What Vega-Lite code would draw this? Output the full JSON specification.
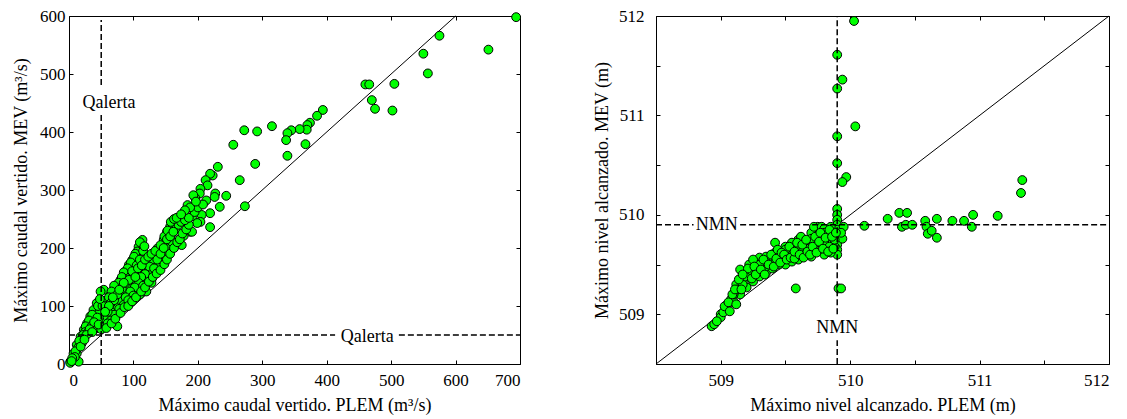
{
  "$schema": "https://vega.github.io/schema/vega-lite/v6.json",
  "background": "white",
  "padding": {"left": 12, "top": 6, "right": 12, "bottom": 5},
  "bounds": "flush",
  "spacing": 136,
  "config": {
    "view": {"stroke": "black", "strokeWidth": 1},
    "font": "Times New Roman, Liberation Serif, serif",
    "axis": {"grid": false, "domain": false, "tickColor": "black", "tickSize": -4, "tickWidth": 1, "labelFont": "Times New Roman, Liberation Serif, serif", "labelFontSize": 17, "labelColor": "black", "titleFont": "Times New Roman, Liberation Serif, serif", "titleFontSize": 18, "titleFontWeight": "normal", "titleColor": "black"}
  },
  "datasets": {
    "q": [
      {"x":694,"y":598},{"x":651,"y":542},{"x":575,"y":566},{"x":550,"y":535},{"x":557,"y":501},{"x":460,"y":482},{"x":466,"y":482},{"x":505,"y":483},{"x":470,"y":455},{"x":475,"y":440},{"x":502,"y":437},{"x":394,"y":438},{"x":385,"y":428},{"x":374,"y":416},{"x":370,"y":412},{"x":369,"y":404},{"x":358,"y":405},{"x":345,"y":403},{"x":339,"y":398},{"x":337,"y":386},{"x":367,"y":379},{"x":339,"y":359},{"x":315,"y":410},{"x":292,"y":401},{"x":272,"y":403},{"x":255,"y":378},{"x":289,"y":345},{"x":265,"y":317},{"x":273,"y":272},{"x":231,"y":340},{"x":223,"y":325},{"x":219,"y":328},{"x":212,"y":317},{"x":215,"y":308},{"x":204,"y":302},{"x":227,"y":294},{"x":244,"y":290},{"x":226,"y":288},{"x":213,"y":282},{"x":203,"y":294},{"x":196,"y":286},{"x":193,"y":291},{"x":184,"y":274},{"x":234,"y":271},{"x":219,"y":260},{"x":206,"y":257},{"x":192,"y":255},{"x":168,"y":251},
      {"x":204,"y":245},{"x":219,"y":236},{"x":188,"y":228},{"x":178,"y":221},{"x":175,"y":205},{"x":199,"y":243},{"x":191,"y":228},{"x":168,"y":249},{"x":162,"y":242},{"x":157,"y":237},{"x":152,"y":228},{"x":147,"y":214},{"x":137,"y":199},{"x":131,"y":188},{"x":121,"y":173},{"x":111,"y":162},{"x":100,"y":145},{"x":90,"y":128},{"x":80,"y":119},{"x":75,"y":105},{"x":138,"y":165},{"x":129,"y":148},{"x":121,"y":145},
      {"x":114,"y":214},{"x":108,"y":202},{"x":106,"y":194},{"x":98,"y":179},{"x":93,"y":171},{"x":87,"y":159},{"x":80,"y":145},{"x":72,"y":131},{"x":64,"y":119},{"x":54,"y":128},{"x":49,"y":125},{"x":59,"y":110},{"x":43,"y":105},{"x":38,"y":93},{"x":33,"y":82},{"x":28,"y":70},{"x":23,"y":59},{"x":18,"y":47},{"x":12,"y":33},{"x":7,"y":18},{"x":2,"y":4},{"x":69,"y":90},{"x":54,"y":76},{"x":54,"y":64},{"x":41,"y":70},{"x":20,"y":36},{"x":12,"y":18},{"x":7,"y":7},{"x":15,"y":4},{"x":2,"y":2},
      {"x":110,"y":210},{"x":103,"y":190},{"x":101,"y":185},{"x":96,"y":175},{"x":91,"y":165},{"x":85,"y":158},{"x":82,"y":150},{"x":77,"y":140},{"x":70,"y":135},{"x":66,"y":125},{"x":62,"y":115},{"x":57,"y":100},{"x":50,"y":95},{"x":47,"y":88},{"x":45,"y":100},{"x":36,"y":85},{"x":31,"y":75},{"x":26,"y":65},{"x":25,"y":55},{"x":22,"y":50},{"x":16,"y":40},{"x":14,"y":28},{"x":10,"y":22},{"x":9,"y":12},{"x":5,"y":10},{"x":4,"y":5},{"x":18,"y":30},{"x":30,"y":55},{"x":35,"y":65},{"x":40,"y":60},{"x":45,"y":75},{"x":60,"y":80},{"x":65,"y":95},{"x":75,"y":100},{"x":80,"y":110},{"x":85,"y":120},{"x":90,"y":135},{"x":95,"y":150},{"x":100,"y":155},{"x":105,"y":170},{"x":110,"y":180},{"x":115,"y":195},{"x":117,"y":203},
      {"x":126,"y":160},{"x":133,"y":175},{"x":140,"y":185},{"x":145,"y":195},{"x":150,"y":205},{"x":155,"y":215},{"x":160,"y":225},{"x":165,"y":232},{"x":170,"y":240},{"x":174,"y":245},{"x":118,"y":155},{"x":112,"y":150},{"x":108,"y":140},{"x":102,"y":132},{"x":95,"y":125},{"x":88,"y":115},{"x":85,"y":102},{"x":78,"y":95},{"x":70,"y":85},{"x":65,"y":75},{"x":60,"y":70},{"x":140,"y":170},{"x":145,"y":180},{"x":150,"y":190},{"x":155,"y":200},{"x":160,"y":210},{"x":128,"y":140},{"x":135,"y":160},{"x":115,"y":135},{"x":120,"y":125},{"x":110,"y":120},{"x":100,"y":118},{"x":92,"y":110},{"x":130,"y":180},{"x":125,"y":168},{"x":75,"y":65},{"x":50,"y":60},{"x":52,"y":100},{"x":48,"y":112},
      {"x":60,"y":90},{"x":65,"y":105},{"x":70,"y":110},{"x":75,"y":120},{"x":82,"y":130},{"x":88,"y":140},{"x":93,"y":145},{"x":98,"y":160},{"x":103,"y":150},{"x":107,"y":165},{"x":113,"y":170},{"x":118,"y":180},{"x":123,"y":185},{"x":128,"y":190},{"x":134,"y":195},{"x":142,"y":205},{"x":148,"y":220},{"x":153,"y":230},{"x":158,"y":245},{"x":163,"y":250},{"x":167,"y":252},{"x":132,"y":165},{"x":137,"y":180},{"x":142,"y":190},{"x":147,"y":200},{"x":152,"y":215},{"x":157,"y":220},{"x":162,"y":228},{"x":85,"y":140},{"x":78,"y":128},{"x":68,"y":115},{"x":62,"y":100},{"x":56,"y":90},{"x":44,"y":80},{"x":39,"y":72},{"x":32,"y":60},{"x":27,"y":50},{"x":24,"y":42},{"x":36,"y":55},{"x":46,"y":68},{"x":58,"y":62},{"x":66,"y":70},{"x":72,"y":78},{"x":80,"y":88},{"x":86,"y":98},{"x":92,"y":100},{"x":98,"y":108},{"x":104,"y":115},{"x":112,"y":125},{"x":118,"y":132},{"x":124,"y":142},{"x":130,"y":150},{"x":136,"y":156},{"x":142,"y":162},{"x":148,"y":172},{"x":152,"y":180},{"x":157,"y":190},{"x":163,"y":200},{"x":168,"y":210},{"x":172,"y":215},{"x":176,"y":225},{"x":182,"y":232},{"x":186,"y":240},{"x":180,"y":248},{"x":186,"y":252},{"x":195,"y":262},{"x":200,"y":270},{"x":208,"y":275},{"x":188,"y":270},{"x":197,"y":280},{"x":180,"y":265},{"x":174,"y":258}
    ],
    "n": [
      {"x":510.03,"y":511.95},{"x":509.9,"y":511.61},{"x":509.94,"y":511.36},{"x":509.9,"y":511.27},{"x":510.04,"y":510.89},{"x":509.9,"y":510.79},{"x":509.9,"y":510.52},{"x":509.97,"y":510.38},{"x":509.94,"y":510.33},{"x":509.9,"y":510.06},{"x":510.11,"y":509.89},{"x":510.29,"y":509.96},{"x":510.38,"y":510.02},{"x":510.44,"y":510.02},{"x":510.4,"y":509.88},{"x":510.43,"y":509.9},{"x":510.48,"y":509.9},{"x":510.58,"y":509.94},{"x":510.59,"y":509.88},{"x":510.6,"y":509.81},{"x":510.63,"y":509.84},{"x":510.67,"y":509.96},{"x":510.67,"y":509.77},{"x":510.79,"y":509.94},{"x":510.88,"y":509.94},{"x":510.95,"y":510.0},{"x":510.94,"y":509.88},{"x":511.14,"y":509.99},{"x":511.33,"y":510.35},{"x":511.32,"y":510.22},{"x":509.58,"y":509.26},{"x":509.91,"y":509.26},{"x":509.93,"y":509.26},
      {"x":509.9,"y":510.0},{"x":509.9,"y":509.95},{"x":509.9,"y":509.9},{"x":509.9,"y":509.85},{"x":509.9,"y":509.8},{"x":509.9,"y":509.75},{"x":509.9,"y":509.7},{"x":509.9,"y":509.65},{"x":509.9,"y":509.6},{"x":509.92,"y":509.78},{"x":509.94,"y":509.76},{"x":509.88,"y":509.68},{"x":509.86,"y":509.72},{"x":509.95,"y":509.88},{"x":509.93,"y":509.82},
      {"x":508.93,"y":508.88},{"x":509.0,"y":509.0},{"x":509.08,"y":509.15},{"x":509.12,"y":509.3},{"x":509.15,"y":509.45},{"x":509.22,"y":509.5},{"x":509.3,"y":509.57},{"x":509.4,"y":509.6},{"x":509.42,"y":509.72},{"x":509.5,"y":509.68},{"x":509.6,"y":509.75},{"x":509.7,"y":509.82},{"x":509.75,"y":509.88},{"x":509.85,"y":509.88},{"x":509.72,"y":509.88},{"x":509.78,"y":509.88},{"x":509.8,"y":509.86},
      {"x":508.95,"y":508.9},{"x":509.0,"y":508.97},{"x":509.05,"y":509.05},{"x":509.1,"y":509.13},{"x":509.15,"y":509.2},{"x":509.2,"y":509.27},{"x":509.25,"y":509.33},{"x":509.3,"y":509.38},{"x":509.35,"y":509.42},{"x":509.4,"y":509.46},{"x":509.5,"y":509.5},{"x":509.6,"y":509.55},{"x":509.7,"y":509.58},{"x":509.8,"y":509.6},{"x":509.85,"y":509.62},
      {"x":509.05,"y":509.1},{"x":509.1,"y":509.2},{"x":509.13,"y":509.25},{"x":509.18,"y":509.35},{"x":509.2,"y":509.4},{"x":509.25,"y":509.45},{"x":509.28,"y":509.5},{"x":509.32,"y":509.52},{"x":509.35,"y":509.48},{"x":509.38,"y":509.55},{"x":509.42,"y":509.52},{"x":509.45,"y":509.58},{"x":509.48,"y":509.55},{"x":509.52,"y":509.62},{"x":509.55,"y":509.6},{"x":509.58,"y":509.66},{"x":509.62,"y":509.65},{"x":509.65,"y":509.7},{"x":509.68,"y":509.66},{"x":509.72,"y":509.72},{"x":509.75,"y":509.7},{"x":509.78,"y":509.76},{"x":509.8,"y":509.72},{"x":509.82,"y":509.8},{"x":509.84,"y":509.68},{"x":509.88,"y":509.75},{"x":509.3,"y":509.5},{"x":509.25,"y":509.55},{"x":509.35,"y":509.58},{"x":509.22,"y":509.42},{"x":509.28,"y":509.44},{"x":509.45,"y":509.5},{"x":509.55,"y":509.53},{"x":509.65,"y":509.6},{"x":509.75,"y":509.64},{"x":509.6,"y":509.7},{"x":509.7,"y":509.76},{"x":509.8,"y":509.82},{"x":509.62,"y":509.78},{"x":509.55,"y":509.72},{"x":509.5,"y":509.65},{"x":509.42,"y":509.62},
      {"x":509.17,"y":509.3},{"x":509.19,"y":509.38},{"x":509.21,"y":509.46},{"x":509.24,"y":509.36},{"x":509.26,"y":509.48},{"x":509.27,"y":509.4},{"x":509.31,"y":509.45},{"x":509.33,"y":509.55},{"x":509.34,"y":509.4},{"x":509.37,"y":509.5},{"x":509.39,"y":509.6},{"x":509.41,"y":509.48},{"x":509.43,"y":509.56},{"x":509.44,"y":509.65},{"x":509.46,"y":509.52},{"x":509.47,"y":509.62},{"x":509.49,"y":509.6},{"x":509.51,"y":509.55},{"x":509.53,"y":509.68},{"x":509.54,"y":509.57},{"x":509.57,"y":509.56},{"x":509.57,"y":509.63},{"x":509.59,"y":509.72},{"x":509.61,"y":509.6},{"x":509.63,"y":509.7},{"x":509.64,"y":509.57},{"x":509.66,"y":509.75},{"x":509.67,"y":509.63},{"x":509.69,"y":509.6},{"x":509.71,"y":509.68},{"x":509.73,"y":509.78},{"x":509.74,"y":509.62},{"x":509.76,"y":509.73},{"x":509.77,"y":509.82},{"x":509.79,"y":509.66},{"x":509.81,"y":509.77},{"x":509.83,"y":509.63},{"x":509.84,"y":509.85},{"x":509.86,"y":509.78},{"x":509.87,"y":509.66},{"x":509.89,"y":509.82},
      {"x":508.97,"y":508.93},{"x":509.02,"y":509.02},{"x":509.03,"y":509.08},{"x":509.06,"y":509.12},{"x":509.07,"y":509.03},{"x":509.09,"y":509.2},{"x":509.11,"y":509.25},{"x":509.12,"y":509.1},{"x":509.14,"y":509.35},{"x":509.16,"y":509.25},{"x":509.17,"y":509.4}
    ],
    "qdiag": [{"x":0,"y":0},{"x":600,"y":600}],
    "ndiag": [{"x":508.5,"y":508.5},{"x":512,"y":512}],
    "qv": [{"x":50,"y1":481,"y2":593},{"x":50,"y1":0,"y2":433}],
    "qh": [{"y":50,"x1":0,"x2":413},{"y":50,"x1":512,"x2":700}],
    "nv": [{"x":509.9,"y1":509.0,"y2":512},{"x":509.9,"y1":508.5,"y2":508.74}],
    "nh": [{"y":509.9,"x1":508.5,"x2":508.79},{"y":509.9,"x1":509.15,"x2":512}],
    "qt": [{"x":62,"y":450,"t":"Qalerta"},{"x":463,"y":47,"t":"Qalerta"}],
    "nt": [{"x":508.97,"y":509.9,"t":"NMN"},{"x":509.9,"y":508.86,"t":"NMN"}]
  },
  "hconcat": [
    {
      "width": 451, "height": 348,
      "resolve": {"axis": {"x": "independent", "y": "independent"}},
      "layer": [
        {
          "data": {"name": "qdiag"},
          "mark": {"type": "line", "color": "black", "strokeWidth": 1},
          "encoding": {
            "x": {"field": "x", "type": "quantitative", "scale": {"domain": [0, 700], "nice": false, "zero": false}, "axis": {"orient": "top", "labels": false, "title": null, "values": [0,100,200,300,400,500,600,700]}},
            "y": {"field": "y", "type": "quantitative", "scale": {"domain": [0, 600], "nice": false, "zero": false}, "axis": {"orient": "right", "labels": false, "title": null, "values": [0,100,200,300,400,500,600]}}
          }
        },
        {
          "data": {"name": "q"},
          "mark": {"type": "point", "shape": "circle", "filled": true, "fill": "#00ff00", "stroke": "black", "strokeWidth": 1, "size": 78, "opacity": 1},
          "encoding": {
            "x": {"field": "x", "type": "quantitative", "axis": {"orient": "bottom", "values": [0,100,200,300,400,500,600,700], "title": "Máximo caudal vertido. PLEM (m³/s)", "labelPadding": 12, "titlePadding": 8}},
            "y": {"field": "y", "type": "quantitative", "axis": {"orient": "left", "values": [0,100,200,300,400,500,600], "title": "Máximo caudal vertido. MEV (m³/s)", "labelPadding": 8, "titlePadding": 9}}
          }
        },
        {
          "data": {"name": "qv"},
          "mark": {"type": "rule", "color": "black", "strokeWidth": 1.5, "strokeDash": [6, 3]},
          "encoding": {
            "x": {"field": "x", "type": "quantitative", "axis": null},
            "y": {"field": "y1", "type": "quantitative", "axis": null},
            "y2": {"field": "y2"}
          }
        },
        {
          "data": {"name": "qh"},
          "mark": {"type": "rule", "color": "black", "strokeWidth": 1.5, "strokeDash": [6, 3]},
          "encoding": {
            "y": {"field": "y", "type": "quantitative", "axis": null},
            "x": {"field": "x1", "type": "quantitative", "axis": null},
            "x2": {"field": "x2"}
          }
        },
        {
          "data": {"name": "qt"},
          "mark": {"type": "text", "font": "Times New Roman, Liberation Serif, serif", "fontSize": 18, "color": "black", "align": "center", "baseline": "middle"},
          "encoding": {
            "x": {"field": "x", "type": "quantitative", "axis": null},
            "y": {"field": "y", "type": "quantitative", "axis": null},
            "text": {"field": "t"}
          }
        }
      ]
    },
    {
      "width": 453, "height": 348,
      "resolve": {"axis": {"x": "independent", "y": "independent"}},
      "layer": [
        {
          "data": {"name": "ndiag"},
          "mark": {"type": "line", "color": "black", "strokeWidth": 1},
          "encoding": {
            "x": {"field": "x", "type": "quantitative", "scale": {"domain": [508.5, 512], "nice": false, "zero": false}, "axis": {"orient": "top", "labels": false, "title": null, "values": [508.5,509,509.5,510,510.5,511,511.5,512]}},
            "y": {"field": "y", "type": "quantitative", "scale": {"domain": [508.5, 512], "nice": false, "zero": false}, "axis": {"orient": "right", "labels": false, "title": null, "values": [508.5,509,509.5,510,510.5,511,511.5,512]}}
          }
        },
        {
          "data": {"name": "n"},
          "mark": {"type": "point", "shape": "circle", "filled": true, "fill": "#00ff00", "stroke": "black", "strokeWidth": 1, "size": 78, "opacity": 1},
          "encoding": {
            "x": {"field": "x", "type": "quantitative", "axis": {"orient": "bottom", "values": [508.5,509,509.5,510,510.5,511,511.5,512], "labelExpr": "datum.value % 1 == 0 ? format(datum.value, 'd') : ''", "title": "Máximo nivel alcanzado. PLEM (m)", "labelPadding": 12, "titlePadding": 8}},
            "y": {"field": "y", "type": "quantitative", "axis": {"orient": "left", "values": [508.5,509,509.5,510,510.5,511,511.5,512], "labelExpr": "datum.value % 1 == 0 ? format(datum.value, 'd') : ''", "title": "Máximo nivel alcanzado. MEV (m)", "labelPadding": 16, "titlePadding": 7}}
          }
        },
        {
          "data": {"name": "nv"},
          "mark": {"type": "rule", "color": "black", "strokeWidth": 1.5, "strokeDash": [6, 3]},
          "encoding": {
            "x": {"field": "x", "type": "quantitative", "axis": null},
            "y": {"field": "y1", "type": "quantitative", "axis": null},
            "y2": {"field": "y2"}
          }
        },
        {
          "data": {"name": "nh"},
          "mark": {"type": "rule", "color": "black", "strokeWidth": 1.5, "strokeDash": [6, 3]},
          "encoding": {
            "y": {"field": "y", "type": "quantitative", "axis": null},
            "x": {"field": "x1", "type": "quantitative", "axis": null},
            "x2": {"field": "x2"}
          }
        },
        {
          "data": {"name": "nt"},
          "mark": {"type": "text", "font": "Times New Roman, Liberation Serif, serif", "fontSize": 18, "color": "black", "align": "center", "baseline": "middle"},
          "encoding": {
            "x": {"field": "x", "type": "quantitative", "axis": null},
            "y": {"field": "y", "type": "quantitative", "axis": null},
            "text": {"field": "t"}
          }
        }
      ]
    }
  ]
}
